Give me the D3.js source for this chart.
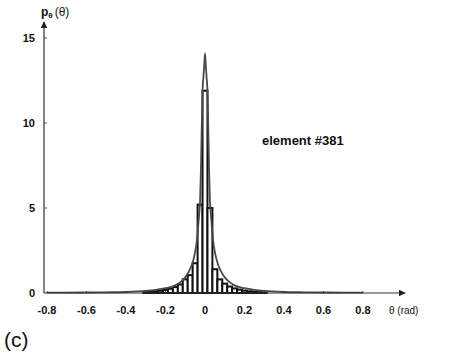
<!DOCTYPE html>
<html>
<head>
<meta charset="utf-8">
<script src="https://d3js.org/d3.v7.min.js"></script>
<style>
  body { margin: 0; background: #fff; }
  svg text { font-family: "Liberation Sans", Arial, sans-serif; fill: #111; }
  .tick-label { font-size: 11px; font-weight: bold; }
  .axis-line { stroke: #333; stroke-width: 1.2px; fill: none; }
  .bar { fill: #fff; stroke: #111; stroke-width: 2px; }
  .curve { fill: none; stroke: #4a4a4a; stroke-width: 1.8px; }
</style>
</head>
<body>
<svg width="450" height="358"></svg>
<script>
// histogram bins (centre in rad, density)
var binWidth = 0.025;
var binCentres = [-0.3, -0.275, -0.25, -0.225, -0.2, -0.175, -0.15, -0.125, -0.1, -0.075, -0.05, -0.025, 0,
                  0.025, 0.05, 0.075, 0.1, 0.125, 0.15, 0.175, 0.2, 0.225, 0.25, 0.275, 0.3];
var binValues  = [0.05, 0.07, 0.1, 0.13, 0.18, 0.25, 0.35, 0.5, 0.8, 1.05, 1.75, 5.2, 11.9,
                  5.0, 1.4, 0.8, 0.55, 0.38, 0.27, 0.2, 0.14, 0.1, 0.07, 0.05, 0.04];

// fitted density curve
var curveX = [-0.8, -0.6, -0.5, -0.4, -0.3, -0.25, -0.2, -0.15, -0.12, -0.1, -0.08, -0.065, -0.05, -0.04,
              -0.03, -0.025, -0.02, -0.0125, -0.008, -0.004, 0,
              0.004, 0.008, 0.0125, 0.02, 0.025, 0.03, 0.04, 0.05, 0.065, 0.08, 0.1, 0.12, 0.15,
              0.2, 0.25, 0.3, 0.4, 0.5, 0.6, 0.8];
var curveY = [0.02, 0.03, 0.04, 0.06, 0.12, 0.18, 0.28, 0.45, 0.68, 0.92, 1.3, 1.7, 2.4, 3.2,
              4.6, 5.4, 7.6, 11.9, 12.7, 13.4, 14.1,
              13.4, 12.7, 11.9, 7.6, 5.4, 4.6, 3.2, 2.4, 1.7, 1.3, 0.92, 0.68, 0.45,
              0.28, 0.18, 0.12, 0.06, 0.04, 0.03, 0.02];

var xTicks = [-0.8, -0.6, -0.4, -0.2, 0, 0.2, 0.4, 0.6, 0.8];
var yTicks = [0, 5, 10, 15];

var svg = d3.select("svg");

var x = d3.scaleLinear().domain([-0.8, 0.8]).range([47, 363]);
var y = d3.scaleLinear().domain([0, 15]).range([293, 38]);

var defs = svg.append("defs");
defs.append("marker")
    .attr("id", "arrow")
    .attr("viewBox", "0 0 10 10")
    .attr("refX", 9).attr("refY", 5)
    .attr("markerWidth", 7).attr("markerHeight", 7)
    .attr("markerUnits", "userSpaceOnUse")
    .attr("orient", "auto")
  .append("path")
    .attr("d", "M0,0L10,5L0,10Z")
    .attr("fill", "#222");

// bars
svg.selectAll(".bar")
    .data(binCentres)
  .enter().append("rect")
    .attr("class", "bar")
    .attr("x", function(d) { return x(d - binWidth / 2); })
    .attr("width", function(d) { return x(d + binWidth / 2) - x(d - binWidth / 2); })
    .attr("y", function(d, i) { return y(binValues[i]); })
    .attr("height", function(d, i) { return y(0) - y(binValues[i]); });

// curve
var line = d3.line()
    .x(function(d) { return x(d); })
    .y(function(d, i) { return y(curveY[i]); })
    .curve(d3.curveMonotoneX);

svg.append("path")
    .attr("class", "curve")
    .attr("d", line(curveX));

// axes
svg.append("line")
    .attr("class", "axis-line")
    .attr("x1", 44).attr("y1", y(0))
    .attr("x2", 405).attr("y2", y(0))
    .attr("marker-end", "url(#arrow)");

svg.append("line")
    .attr("class", "axis-line")
    .attr("x1", 44).attr("y1", y(0))
    .attr("x2", 44).attr("y2", 22)
    .attr("marker-end", "url(#arrow)");

svg.selectAll(".ytick")
    .data(yTicks.filter(function(d) { return d > 0; }))
  .enter().append("line")
    .attr("class", "axis-line")
    .attr("x1", 44).attr("x2", 47)
    .attr("y1", function(d) { return y(d); })
    .attr("y2", function(d) { return y(d); })
    .style("stroke-width", "0.8px");

svg.selectAll(".ylab")
    .data(yTicks)
  .enter().append("text")
    .attr("class", "tick-label")
    .attr("x", 35)
    .attr("y", function(d) { return y(d) + 4; })
    .attr("text-anchor", "end")
    .text(function(d) { return d; });

svg.selectAll(".xtick")
    .data(xTicks.filter(function(d) { return d !== 0; }))
  .enter().append("line")
    .attr("class", "axis-line")
    .attr("x1", function(d) { return x(d); })
    .attr("x2", function(d) { return x(d); })
    .attr("y1", y(0)).attr("y2", y(0) - 2)
    .style("stroke-width", "0.8px");

svg.selectAll(".xlab")
    .data(xTicks)
  .enter().append("text")
    .attr("class", "tick-label")
    .attr("x", function(d) { return x(d); })
    .attr("y", 314)
    .attr("text-anchor", "middle")
    .text(function(d) { return d === 0 ? "0" : d.toFixed(1); });

svg.append("text")
    .attr("x", 389).attr("y", 314)
    .style("font-size", "10px")
    .text("\u03b8 (rad)");

// y label p_theta(theta)
var yl = svg.append("text")
    .attr("x", 41).attr("y", 16)
    .style("font-size", "12px")
    .style("font-weight", "bold");
yl.append("tspan").text("p");
yl.append("tspan").attr("dy", 2).style("font-size", "8px").text("\u03b8");
yl.append("tspan").attr("dy", -2).attr("dx", 2).style("font-weight", "normal").text("(\u03b8)");

svg.append("text")
    .attr("x", 262).attr("y", 145)
    .style("font-size", "13px")
    .style("font-weight", "bold")
    .text("element #381");

svg.append("text")
    .attr("x", 4).attr("y", 347)
    .style("font-size", "21px")
    .text("(c)");
</script>
</body>
</html>
